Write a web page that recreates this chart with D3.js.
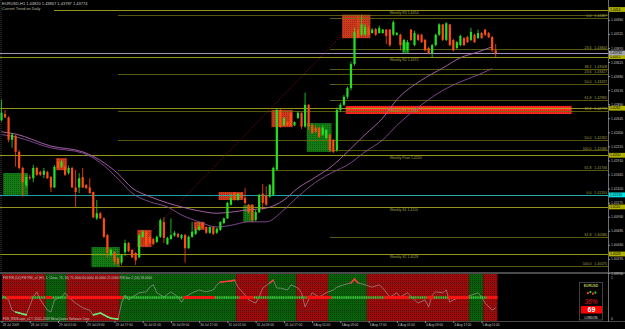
<!DOCTYPE html>
<html>
<head>
<meta charset="utf-8">
<script src="https://cdn.jsdelivr.net/npm/d3@7/dist/d3.min.js"></script>
<style>
  html, body { margin: 0; padding: 0; background: #000; }
  svg { display: block; }
  text { font-family: "Liberation Sans", Arial, sans-serif; }
</style>
</head>
<body>
<div id="chart"></div>
<script>
// EURUSD H1, 28 Jul 2009 09:00 .. 5 Aug 2009 05:00 (one entry per bar)
var opens = [
  1.4261,1.4272,1.4266,1.4227,1.4234,1.4206,1.4178,1.4148,1.4162,1.4160,
  1.4178,1.4171,1.4166,1.4171,1.4162,1.4144,1.4189,1.4180,1.4180,1.4169,
  1.4178,1.4144,1.4144,1.4162,1.4148,1.4144,1.4136,1.4090,1.4099,1.4090,
  1.4061,1.4026,1.4031,1.4021,1.4013,1.4031,1.4047,1.4035,1.4030,1.4022,
  1.4058,1.4067,1.4058,1.4054,1.4049,1.4058,1.4084,1.4045,1.4054,1.4060,
  1.4063,1.4056,1.4061,1.4038,1.4058,1.4063,1.4070,1.4082,1.4075,1.4065,
  1.4075,1.4065,1.4070,1.4082,1.4090,1.4114,1.4134,1.4122,1.4134,1.4126,
  1.4114,1.4114,1.4087,1.4101,1.4133,1.4130,1.4128,1.4131,1.4175,1.4279,
  1.4252,1.4258,1.4274,1.4252,1.4265,1.4274,1.4250,1.4288,1.4252,1.4248,
  1.4248,1.4236,1.4230,1.4236,1.4227,1.4209,1.4279,1.4288,1.4302,1.4317,
  1.4359,1.4419,1.4410,1.4410,1.4422,1.4413,1.4420,1.4413,1.4413,1.4419,
  1.4419,1.4410,1.4410,1.4410,1.4383,1.4383,1.4419,1.4392,1.4410,1.4410,
  1.4401,1.4387,1.4378,1.4392,1.4410,1.4428,1.4401,1.4428,1.4401,1.4387,
  1.4392,1.4404,1.4406,1.4401,1.4410,1.4404,1.4413,1.4419,1.4413,1.4406,
  1.4383];
var highs = [
  1.4297,1.4279,1.4268,1.4239,1.4236,1.4209,1.4180,1.4166,1.4166,1.4183,
  1.4180,1.4173,1.4178,1.4173,1.4164,1.4183,1.4195,1.4192,1.4183,1.4182,
  1.4180,1.4175,1.4169,1.4178,1.4150,1.4160,1.4137,1.4122,1.4101,1.4092,
  1.4063,1.4038,1.4033,1.4022,1.4028,1.4053,1.4049,1.4037,1.4031,1.4063,
  1.4070,1.4068,1.4060,1.4056,1.4060,1.4090,1.4092,1.4058,1.4090,1.4068,
  1.4065,1.4063,1.4063,1.4060,1.4084,1.4074,1.4084,1.4084,1.4076,1.4076,
  1.4076,1.4074,1.4085,1.4092,1.4119,1.4133,1.4136,1.4134,1.4136,1.4143,
  1.4115,1.4115,1.4105,1.4133,1.4150,1.4146,1.4150,1.4180,1.4281,1.4281,
  1.4266,1.4259,1.4275,1.4259,1.4277,1.4275,1.4309,1.4289,1.4256,1.4252,
  1.4250,1.4252,1.4246,1.4237,1.4228,1.4283,1.4291,1.4305,1.4320,1.4363,
  1.4422,1.4444,1.4445,1.4429,1.4426,1.4422,1.4422,1.4426,1.4420,1.4420,
  1.4420,1.4435,1.4415,1.4412,1.4403,1.4401,1.4420,1.4417,1.4412,1.4412,
  1.4403,1.4389,1.4394,1.4412,1.4430,1.4429,1.4432,1.4429,1.4403,1.4399,
  1.4410,1.4406,1.4408,1.4422,1.4412,1.4419,1.4415,1.4420,1.4415,1.4408,
  1.4394];
var lows = [
  1.4259,1.4265,1.4223,1.4213,1.4180,1.4175,1.4128,1.4144,1.4157,1.4153,
  1.4164,1.4164,1.4160,1.4159,1.4136,1.4143,1.4176,1.4178,1.4164,1.4166,
  1.4143,1.4110,1.4134,1.4143,1.4141,1.4133,1.4090,1.4087,1.4089,1.4056,
  1.4022,1.4024,1.4009,1.4007,1.4009,1.4024,1.4031,1.4021,1.4009,1.4021,
  1.4056,1.4040,1.4045,1.4044,1.4047,1.4056,1.4047,1.4044,1.4053,1.4058,
  1.4056,1.4053,1.4013,1.4037,1.4056,1.4061,1.4068,1.4072,1.4063,1.4063,
  1.4061,1.4063,1.4068,1.4080,1.4089,1.4112,1.4121,1.4121,1.4124,1.4114,
  1.4098,1.4084,1.4085,1.4099,1.4105,1.4112,1.4126,1.4130,1.4173,1.4248,
  1.4251,1.4251,1.4250,1.4251,1.4263,1.4246,1.4248,1.4244,1.4237,1.4239,
  1.4230,1.4234,1.4228,1.4206,1.4204,1.4206,1.4275,1.4286,1.4298,1.4313,
  1.4356,1.4404,1.4408,1.4408,1.4408,1.4412,1.4408,1.4412,1.4412,1.4394,
  1.4389,1.4408,1.4408,1.4383,1.4380,1.4381,1.4399,1.4390,1.4399,1.4396,
  1.4381,1.4376,1.4370,1.4390,1.4408,1.4399,1.4399,1.4390,1.4381,1.4385,
  1.4390,1.4390,1.4396,1.4399,1.4396,1.4403,1.4403,1.4408,1.4404,1.4380,
  1.4371];
var closes = [
  1.4274,1.4266,1.4227,1.4236,1.4206,1.4178,1.4153,1.4162,1.4160,1.4178,
  1.4166,1.4166,1.4173,1.4160,1.4144,1.4180,1.4178,1.4189,1.4166,1.4178,
  1.4144,1.4136,1.4160,1.4144,1.4143,1.4134,1.4092,1.4099,1.4090,1.4058,
  1.4030,1.4035,1.4015,1.4011,1.4026,1.4047,1.4033,1.4022,1.4017,1.4061,
  1.4067,1.4044,1.4047,1.4045,1.4058,1.4087,1.4056,1.4056,1.4061,1.4065,
  1.4058,1.4061,1.4038,1.4058,1.4067,1.4070,1.4076,1.4074,1.4065,1.4075,
  1.4063,1.4072,1.4084,1.4090,1.4117,1.4126,1.4122,1.4133,1.4126,1.4117,
  1.4101,1.4087,1.4101,1.4131,1.4117,1.4114,1.4148,1.4178,1.4279,1.4250,
  1.4265,1.4252,1.4252,1.4258,1.4274,1.4250,1.4288,1.4250,1.4239,1.4241,
  1.4232,1.4248,1.4244,1.4209,1.4206,1.4279,1.4288,1.4302,1.4317,1.4359,
  1.4415,1.4406,1.4428,1.4424,1.4410,1.4419,1.4410,1.4422,1.4419,1.4408,
  1.4392,1.4432,1.4413,1.4392,1.4401,1.4397,1.4401,1.4413,1.4401,1.4397,
  1.4383,1.4378,1.4392,1.4410,1.4428,1.4401,1.4430,1.4392,1.4383,1.4397,
  1.4408,1.4392,1.4397,1.4415,1.4397,1.4413,1.4404,1.4410,1.4406,1.4383,
  1.4378];

// moving averages, read at these bars
var maBars = [0,4,14,23,28,33,37,42,47,51,56,61,65,70,75,80,84,89,94,98,103,108,112,119,125,130,135,139];
var maFast = [1.4241,1.4237,1.4216,1.4206,1.4191,1.4168,1.4143,1.4128,1.4117,1.4110,1.4103,1.4099,1.4101,1.4105,
              1.4108,1.4122,1.4143,1.4162,1.4183,1.4206,1.4236,1.4265,1.4297,1.4331,1.4352,1.4370,1.4380,1.4389];
var maSlow = [1.4236,1.4232,1.4213,1.4204,1.4187,1.4159,1.4134,1.4119,1.4110,1.4096,1.4084,1.4075,1.4078,1.4084,
              1.4084,1.4105,1.4128,1.4153,1.4171,1.4183,1.4206,1.4227,1.4252,1.4288,1.4313,1.4328,1.4340,1.4351];

// weekly pivots
var pivotNames = ["Weekly R3", "Weekly R2", "Weekly R1", "Weekly Pivot", "Weekly S1", "Weekly S2"];
var pivotValues = [1.4454, 1.4372, 1.4282, 1.4200, 1.4110, 1.4028];

// fibonacci retracements
var fibARatios = [0, 23.6, 38.2, 50.0, 61.8, 100.0];
var fibAValues = [1.44449, 1.43417, 1.42778, 1.42262, 1.41746, 1.40075];
var fibBRatios = [0, 23.6, 38.2, 50.0, 61.8, 100.0];
var fibBValues = [1.44387, 1.43844, 1.43508, 1.43237, 1.42965, 1.42086];
var fibCRatios = [0, 61.8];
var fibCValues = [1.41310, 1.40580];

// supply / demand rectangles (bar ranges)
var zoneStart = [1, 16, 26, 39, 55, 62, 69, 77, 87, 97, 114];
var zoneEnd   = [7, 18, 33, 42, 57, 68, 71, 82, 93, 104, 115];
var zoneHigh  = [1.4169, 1.4195, 1.4040, 1.4070, 1.4084, 1.4136, 1.4113, 1.4279, 1.4256, 1.4445, 1.4397];
var zoneLow   = [1.4131, 1.4174, 1.4005, 1.4040, 1.4070, 1.4122, 1.4084, 1.4249, 1.4206, 1.4404, 1.4378];
var zoneKind  = ["demand","supply","demand","supply","supply","supply","demand","supply","demand","supply","demand"];
var bandBars = [98, 162];
var bandPrices = [1.4286, 1.4272];

var cyanLevel = 1.4131;
var bidPrice = 1.43782;
var trendLineBars = [33, 102];
var trendLinePrices = [1.4007, 1.4445];

var quoteOHLC = [1.43820, 1.43867, 1.43787, 1.43774];

var priceTicks = [1.44360, 1.44115, 1.43870, 1.43625, 1.43380, 1.43135, 1.42890, 1.42645, 1.42400, 1.42155,
                  1.41910, 1.41665, 1.41420, 1.41175, 1.40930, 1.40685, 1.40440, 1.40195, 1.39950];
var timeBars = [0, 8, 16, 24, 32, 40, 48, 56, 64, 72, 80, 88, 96, 104, 112, 120, 128, 136];
var timeLabels = ["28 Jul 2009", "28 Jul 17:00", "29 Jul 01:00", "29 Jul 09:00", "29 Jul 17:00", "30 Jul 01:00",
                  "30 Jul 09:00", "30 Jul 17:00", "31 Jul 01:00", "31 Jul 09:00", "31 Jul 17:00", "3 Aug 01:00",
                  "3 Aug 09:00", "3 Aug 17:00", "4 Aug 01:00", "4 Aug 09:00", "4 Aug 17:00", "5 Aug 01:00"];

// indicator window
var trendStart = [0, 13, 19, 34, 67, 76, 84, 93, 104, 133, 137];
var trendEnd   = [12, 18, 33, 66, 75, 83, 92, 103, 132, 136, 140];
var trendDir   = ["down","up","down","up","down","up","down","up","down","up","down"];
var midStart = [0, 2, 9, 13, 15, 19, 35, 52, 61, 68, 72, 87, 94, 109, 116, 121, 123, 127, 133, 138];
var midEnd   = [1, 8, 12, 14, 18, 34, 51, 60, 67, 71, 86, 93, 108, 115, 120, 122, 126, 132, 137, 140];
var midKind  = ["g","r","g","r","g","r","g","r","g","r","g","r","g","r","g","r","g","r","g","r"];
var rsiBars = [0,2,3,4,5,7,9,10,11,13,14,15,17,18,19,21,23,25,26,28,30,31,33,34,35,36,37,39,41,42,
               43,44,46,48,50,51,52,54,56,58,60,61,62,65,66,67,69,70,72,73,74,76,77,78,79,81,82,84,85,86,
               88,90,92,94,95,97,99,100,101,103,105,107,108,110,112,113,115,117,118,120,121,122,123,125,126,
               127,128,130,131,133,135,136,137,139,140];
var rsiVals = [55,45,23,19,17,13,51,62,45,23,19,45,51,60,51,38,28,23,13,17,9,6,4,38,55,45,51,60,62,72,
               77,60,51,62,51,40,51,60,66,62,66,77,83,85,87,72,55,45,38,51,70,81,87,70,70,66,77,70,60,30,
               60,51,60,66,72,77,81,89,81,77,72,77,70,51,60,51,60,45,38,45,30,55,62,60,66,
               40,45,51,49,55,60,51,38,23,28];

var W = 625, H = 329,
    PLOT_RIGHT = 608, MAIN_BOTTOM = 272, SUB_TOP = 274, SUB_BOTTOM = 321,
    STEP = 3.53, HALF = STEP / 2,
    FONT = "Liberation Sans, Arial, sans-serif";

var x = d3.scaleLinear().domain([0, 170]).range([1.5, 1.5 + STEP * 170]);
var y = d3.scaleLinear().domain([1.4454, 1.4028]).range([9.5, 254]);
var ySub = d3.scaleLinear().domain([0, 100]).range([SUB_BOTTOM, SUB_TOP]);

var svg = d3.select("#chart").append("svg")
    .attr("width", W).attr("height", H)
    .style("background", "#000");

var defs = svg.append("defs");
function dotPattern(id, base, dot) {
    var p = defs.append("pattern").attr("id", id)
        .attr("patternUnits", "userSpaceOnUse").attr("width", 2).attr("height", 2);
    p.append("rect").attr("width", 2).attr("height", 2).attr("fill", base);
    p.append("rect").attr("width", 1).attr("height", 1).attr("fill", dot);
}
dotPattern("supply", "#cc3a1e", "#a82c16");
dotPattern("demand", "#157c15", "#0c5a0c");
dotPattern("band", "#ff2a20", "#dc1a14");
dotPattern("bgDown", "#9c0c0c", "#6e0606");
dotPattern("bgUp", "#0a600a", "#064206");

defs.append("clipPath").attr("id", "mainClip")
    .append("rect").attr("x", 0).attr("y", 0).attr("width", PLOT_RIGHT).attr("height", MAIN_BOTTOM);
defs.append("clipPath").attr("id", "subClip")
    .append("rect").attr("x", 2).attr("y", SUB_TOP).attr("width", PLOT_RIGHT - 2).attr("height", SUB_BOTTOM - SUB_TOP);

var main = svg.append("g").attr("clip-path", "url(#mainClip)");

// rectangles
main.selectAll("rect.zone")
    .data(zoneStart).enter().append("rect")
    .attr("class", "zone")
    .attr("x", function (d) { return x(d) - HALF; })
    .attr("width", function (d, i) { return x(zoneEnd[i]) - x(d) + STEP; })
    .attr("y", function (d, i) { return y(zoneHigh[i]); })
    .attr("height", function (d, i) { return y(zoneLow[i]) - y(zoneHigh[i]); })
    .attr("fill", function (d, i) { return "url(#" + zoneKind[i] + ")"; });

main.append("rect")
    .attr("x", x(bandBars[0]) - HALF)
    .attr("width", x(bandBars[1]) - x(bandBars[0]))
    .attr("y", y(bandPrices[0]))
    .attr("height", y(bandPrices[1]) - y(bandPrices[0]))
    .attr("fill", "url(#band)");

// fibo lines
var fibs = [
    {start: 33, ratios: fibARatios, values: fibAValues, hideFirst: true},
    {start: 93, ratios: fibBRatios, values: fibBValues, hideFirst: false},
    {start: 93, ratios: fibCRatios, values: fibCValues, hideFirst: false}
];
var fibLevels = [];
fibs.forEach(function (f) {
    f.values.forEach(function (v, k) {
        fibLevels.push({start: f.start, ratio: f.ratios[k], value: v, label: !(f.hideFirst && k === 0)});
    });
});
main.selectAll("line.fib")
    .data(fibLevels).enter().append("line")
    .attr("class", "fib")
    .attr("x1", function (d) { return x(d.start); })
    .attr("x2", PLOT_RIGHT)
    .attr("y1", function (d) { return Math.round(y(d.value)) + 0.5; })
    .attr("y2", function (d) { return Math.round(y(d.value)) + 0.5; })
    .attr("stroke", "#6e6e12").attr("stroke-width", 0.8);

// pivot lines
main.selectAll("line.pivot")
    .data(pivotValues).enter().append("line")
    .attr("class", "pivot")
    .attr("x1", 0).attr("x2", PLOT_RIGHT)
    .attr("y1", function (d) { return Math.round(y(d)) + 0.5; })
    .attr("y2", function (d) { return Math.round(y(d)) + 0.5; })
    .attr("stroke", "#a6a620").attr("stroke-width", 0.9);

main.append("line")
    .attr("x1", 0).attr("x2", PLOT_RIGHT)
    .attr("y1", Math.round(y(cyanLevel)) + 0.5).attr("y2", Math.round(y(cyanLevel)) + 0.5)
    .attr("stroke", "#22b4b4").attr("stroke-width", 0.9);

main.append("line")
    .attr("x1", 0).attr("x2", PLOT_RIGHT)
    .attr("y1", Math.round(y(bidPrice)) + 0.5).attr("y2", Math.round(y(bidPrice)) + 0.5)
    .attr("stroke", "#b8a2cc").attr("stroke-width", 0.9);

// moving averages
function maLine(values) {
    return d3.line()
        .x(function (d, i) { return x(maBars[i]); })
        .y(function (d) { return y(d); })
        .curve(d3.curveMonotoneX)(values);
}
main.append("path").attr("d", maLine(maSlow))
    .attr("fill", "none").attr("stroke", "#8a4c9c").attr("stroke-width", 0.9);
main.append("path").attr("d", maLine(maFast))
    .attr("fill", "none").attr("stroke", "#b266b2").attr("stroke-width", 0.9);

// trend line
main.append("line")
    .attr("x1", x(trendLineBars[0])).attr("y1", y(trendLinePrices[0]))
    .attr("x2", x(trendLineBars[1])).attr("y2", y(trendLinePrices[1]))
    .attr("stroke", "#b41414").attr("stroke-width", 0.8)
    .attr("stroke-dasharray", "1,1.6");

// candles
var candles = opens.map(function (o, i) {
    return {i: i, o: o, h: highs[i], l: lows[i], c: closes[i]};
});
function candleColor(d) { return d.c >= d.o ? "#22e022" : "#ff4c10"; }

var cs = main.append("g").selectAll("g")
    .data(candles).enter().append("g");
cs.append("line")
    .attr("x1", function (d) { return x(d.i); })
    .attr("x2", function (d) { return x(d.i); })
    .attr("y1", function (d) { return y(d.h); })
    .attr("y2", function (d) { return y(d.l); })
    .attr("stroke", candleColor).attr("stroke-width", 0.8);
cs.append("rect")
    .attr("x", function (d) { return x(d.i) - 1.1; })
    .attr("width", 2.2)
    .attr("y", function (d) { return y(Math.max(d.o, d.c)); })
    .attr("height", function (d) { return Math.max(0.7, Math.abs(y(d.o) - y(d.c))); })
    .attr("fill", candleColor);

// labels of the levels
main.selectAll("text.pivot")
    .data(pivotValues).enter().append("text")
    .attr("class", "pivot")
    .attr("x", x(110)).attr("y", function (d) { return y(d) + 4.2; })
    .attr("fill", "#a4a43a").style("font-size", "3.5px")
    .text(function (d, i) { return pivotNames[i] + " " + d.toFixed(4); });

main.selectAll("text.fib")
    .data(fibLevels.filter(function (d) { return d.label; })).enter().append("text")
    .attr("class", "fib")
    .attr("x", 607).attr("y", function (d) { return y(d.value) - 0.8; })
    .attr("text-anchor", "end")
    .attr("fill", "#a0a040").style("font-size", "3.5px")
    .style("white-space", "pre")
    .text(function (d) { return d.ratio.toFixed(1) + "   " + d.value.toFixed(5); });

// chart caption
main.append("rect").attr("x", 0).attr("y", 6.3).attr("width", 54).attr("height", 5).attr("fill", "#000");
svg.append("text").attr("x", 2).attr("y", 5.2)
    .attr("fill", "#c8c8c8").style("font-size", "4px")
    .text("EURUSD,H1  " + quoteOHLC.map(function (v) { return v.toFixed(5); }).join(" "));
svg.append("text").attr("x", 2).attr("y", 10.2)
    .attr("fill", "#bcbca0").style("font-size", "3.8px")
    .text("Current Trend on Daily:");

// left border
svg.append("line").attr("x1", 1).attr("x2", 1).attr("y1", 0).attr("y2", MAIN_BOTTOM)
    .attr("stroke", "#707070").attr("stroke-width", 0.6).attr("stroke-dasharray", "1,1");

// ---- indicator window ----
var sub = svg.append("g").attr("clip-path", "url(#subClip)");

sub.selectAll("rect.bg")
    .data(trendStart).enter().append("rect")
    .attr("class", "bg")
    .attr("x", function (d) { return x(d) - HALF; })
    .attr("width", function (d, i) { return x(trendEnd[i]) - x(d) + STEP; })
    .attr("y", SUB_TOP).attr("height", SUB_BOTTOM - SUB_TOP)
    .attr("fill", function (d, i) { return trendDir[i] === "up" ? "url(#bgUp)" : "url(#bgDown)"; });

[80, 20].forEach(function (lv) {
    sub.append("line")
        .attr("x1", 2).attr("x2", x(140) + HALF)
        .attr("y1", ySub(lv)).attr("y2", ySub(lv))
        .attr("stroke", "#303030").attr("stroke-width", 0.6).attr("stroke-dasharray", "1,1");
});

var rsiPts = rsiBars.map(function (b, i) { return [x(b), ySub(rsiVals[i]), rsiVals[i]]; });
sub.append("path")
    .attr("d", d3.line()(rsiPts.map(function (p) { return [p[0], p[1]]; })))
    .attr("fill", "none").attr("stroke", "#a8a8a8").attr("stroke-width", 0.6);

for (var k = 1; k < rsiPts.length; k++) {
    var a = rsiPts[k - 1], b = rsiPts[k], col = null;
    if (a[2] < 20 && b[2] < 20) col = "#6fe86f";
    if (a[2] > 80 && b[2] > 80) col = "#ff3a3a";
    if (col) {
        sub.append("line").attr("x1", a[0]).attr("y1", a[1]).attr("x2", b[0]).attr("y2", b[1])
            .attr("stroke", col).attr("stroke-width", 1.6).attr("stroke-linecap", "round");
    }
}

var midY = ySub(50);
midStart.forEach(function (s, i) {
    var x1 = x(s) - HALF, x2 = x(midEnd[i]) + HALF;
    if (midKind[i] === "r") {
        sub.append("rect").attr("x", x1).attr("width", x2 - x1)
            .attr("y", midY - 1.4).attr("height", 2.8).attr("fill", "#ff1414");
    } else {
        sub.append("line").attr("x1", x1).attr("x2", x2).attr("y1", midY).attr("y2", midY)
            .attr("stroke", "#3cc83c").attr("stroke-width", 2.4).attr("stroke-dasharray", "1.3,0.5");
    }
});

svg.append("text").attr("x", 3).attr("y", 279.3)
    .attr("fill", "#c8c8c8").style("font-size", "3.2px")
    .text("FW RSI (14)    FW RSI_v2 (H1, 1, Close, 70, 30) 71.0000 60.0000 40.0000 21.0000 RSI bar 2 (14) 58.0000");
svg.append("text").attr("x", 3).attr("y", 319.6)
    .attr("fill", "#c8c8c8").style("font-size", "3.2px")
    .text("FXS_RSIScope_v2 \u00a9 2001-2009 MetaQuotes Software Corp.");

// signal box
var box = svg.append("g");
box.append("rect").attr("x", 579.5).attr("y", 282.5).attr("width", 23).attr("height", 37.5)
    .attr("fill", "#000").attr("stroke", "#6a6a6a").attr("stroke-width", 0.6);
box.append("text").attr("x", 591).attr("y", 287).attr("text-anchor", "middle")
    .attr("fill", "#b8c850").style("font-size", "3.4px").style("font-weight", "bold").text("EURUSD");
[["#ff3030", 587, 292], ["#30d030", 589.5, 291], ["#ff3030", 592, 292.5], ["#30d030", 594.5, 291.5]].forEach(function (s) {
    box.append("rect").attr("x", s[1]).attr("y", s[2]).attr("width", 1.8).attr("height", 2.2).attr("fill", s[0]);
});
box.append("text").attr("x", 591).attr("y", 303.5).attr("text-anchor", "middle")
    .attr("fill", "#e01818").style("font-size", "6.5px").style("font-style", "italic").text("36%");
box.append("rect").attr("x", 581).attr("y", 306).attr("width", 21).attr("height", 7.5).attr("fill", "#ff0000");
box.append("text").attr("x", 591.5).attr("y", 312.3).attr("text-anchor", "middle")
    .attr("fill", "#fff").style("font-size", "7px").style("font-weight", "bold").text("69");
box.append("text").attr("x", 591).attr("y", 318.5).attr("text-anchor", "middle")
    .attr("fill", "#e0e0e0").style("font-size", "3px").text("LONDON");

svg.append("text").attr("x", 611).attr("y", 278.5).attr("fill", "#c0c0c0").style("font-size", "3.4px").text("1");
svg.append("text").attr("x", 611).attr("y", 320).attr("fill", "#c0c0c0").style("font-size", "3.4px").text("0");

// ---- frames and axes ----
svg.append("line").attr("x1", PLOT_RIGHT + 0.5).attr("x2", PLOT_RIGHT + 0.5).attr("y1", 0).attr("y2", SUB_BOTTOM + 1)
    .attr("stroke", "#8a8a8a").attr("stroke-width", 0.8);
[MAIN_BOTTOM + 0.5, SUB_TOP - 0.5, SUB_BOTTOM + 0.5].forEach(function (yy) {
    svg.append("line").attr("x1", 0).attr("x2", W).attr("y1", yy).attr("y2", yy)
        .attr("stroke", "#6a6a6a").attr("stroke-width", 0.7);
});

var yAxis = d3.axisRight(y).tickValues(priceTicks).tickSize(2).tickPadding(1)
    .tickFormat(d3.format(".5f"));
var gy = svg.append("g").attr("transform", "translate(" + PLOT_RIGHT + ",0)")
    .call(yAxis)
    .attr("color", "#c0c0c0").attr("font-size", 3.4).attr("font-family", FONT);
gy.select(".domain").remove();
gy.selectAll(".tick line").attr("stroke", "#909090");

// coloured price marks on the axis
var marks = pivotValues.map(function (v) { return {v: v, bg: "#b0b000", txt: v.toFixed(4)}; });
marks.push({v: bidPrice, bg: "#a6a6ae", txt: bidPrice.toFixed(5)});
marks.push({v: cyanLevel, bg: "#00e6e6", txt: cyanLevel.toFixed(5)});
var mg = svg.selectAll("g.mark").data(marks).enter().append("g").attr("class", "mark");
mg.append("rect")
    .attr("x", PLOT_RIGHT + 1).attr("y", function (d) { return y(d.v) - 2.4; })
    .attr("width", 17).attr("height", 4.8).attr("fill", function (d) { return d.bg; });
mg.append("text")
    .attr("x", PLOT_RIGHT + 2).attr("y", function (d) { return y(d.v) + 1.2; })
    .attr("fill", "#000").style("font-size", "3.4px")
    .text(function (d) { return d.txt; });

var xAxis = d3.axisBottom(x).tickValues(timeBars).tickSize(2).tickPadding(1)
    .tickFormat(function (d, i) { return timeLabels[i]; });
var gx = svg.append("g").attr("transform", "translate(0," + SUB_BOTTOM + ")")
    .call(xAxis)
    .attr("color", "#c0c0c0").attr("font-size", 3.2).attr("font-family", FONT);
gx.select(".domain").remove();
gx.selectAll(".tick line").attr("stroke", "#909090");
gx.selectAll(".tick text").attr("text-anchor", "start").attr("x", 0.5);
</script>
</body>
</html>
